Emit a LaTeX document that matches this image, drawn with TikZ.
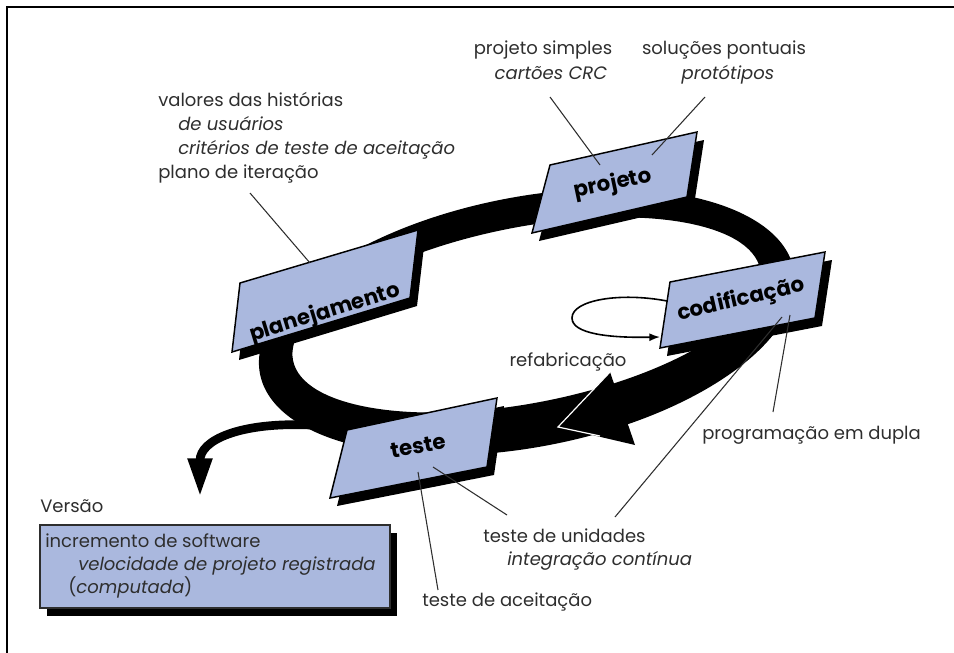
\documentclass[tikz,border=0pt]{standalone}
\usepackage{fontspec}
\setmainfont{Poppins}
\usetikzlibrary{arrows.meta}
\definecolor{cardblue}{HTML}{AAB8DE}
\definecolor{inkgray}{HTML}{2E2E2E}

\begin{document}
\begin{tikzpicture}[x=0.75pt, y=-0.75pt,
    note/.style={font=\fontsize{13.5}{15}\selectfont, text=inkgray, inner sep=0pt,
      text height=1.5ex, text depth=.25ex},
    noteleft/.style={note, anchor=west},
    stage/.style={font=\fontsize{16}{18}\selectfont\bfseries, text=black, inner sep=0pt},
    leader/.style={draw=inkgray, line width=0.8pt},
    cardface/.style={fill=cardblue, draw=black, line width=1.1pt, line join=miter},
    cardshadow/.style={fill=black, shift={(7,8)}}]

  \useasboundingbox (0,0) rectangle (954,653);

  % frame
  \draw[line width=1.6pt] (7,653) -- (7,7) -- (954,7);

  % release arrow, leaves the loop
  \draw[line width=6.5pt, -{Triangle[length=29pt, width=17pt]}]
    (310,425) .. controls (240,422) and (200,440) .. (200,497);

  % the loop
  \fill[even odd rule, rotate around={11:(527,322)}]
    (527,322) ellipse [x radius=272, y radius=125]
    (528,315) ellipse [x radius=238, y radius=88];

  % arrowhead on the loop
  \fill (558,427) -- (610,372) -- (635,445) -- cycle;
  \draw[white, line width=0.9pt] (610,372) -- (558,427) -- (600,436);

  % planejamento
  \fill[cardshadow] (240,283) -- (418,230) -- (410,298) -- (232,352) -- cycle;
  \filldraw[cardface] (240,283) -- (418,230) -- (410,298) -- (232,352) -- cycle;
  \node[stage, rotate=17] (planejamento) at (325,313) {planejamento};

  % projeto
  \fill[cardshadow] (550,165) -- (697,132) -- (687,197) -- (532,233) -- cycle;
  \filldraw[cardface] (550,165) -- (697,132) -- (687,197) -- (532,233) -- cycle;
  \node[stage, rotate=12] (projeto) at (613,184) {projeto};

  % codificacao
  \fill[cardshadow] (670,282) -- (825,252) -- (815,318) -- (660,348) -- cycle;
  \filldraw[cardface] (670,282) -- (825,252) -- (815,318) -- (660,348) -- cycle;
  \node[stage, rotate=13] (codificacao) at (741,300) {codificação};

  % teste
  \fill[cardshadow] (347,430) -- (497,398) -- (487,467) -- (330,498) -- cycle;
  \filldraw[cardface] (347,430) -- (497,398) -- (487,467) -- (330,498) -- cycle;
  \node[stage, rotate=10] (teste) at (418,446) {teste};

  % refabricacao loop
  \draw[line width=1.2pt, -{Latex[length=8pt, width=6pt]}]
    (667,301) .. controls (620,292) and (572,300) .. (572,318)
    .. controls (572,334) and (610,338) .. (660,337);
  \node[note] (refab) at (568,362) {refabricação};

  % versao box
  \node[noteleft] (versao) at (40,508) {Versão};
  \fill[cardshadow] (40,525) rectangle (390,608);
  \filldraw[cardface, draw=inkgray] (40,525) rectangle (390,608);
  \node[noteleft] (incremento) at (45,543) {incremento de software};
  \node[noteleft] (velocidade) at (78,566) {\itshape velocidade de projeto registrada};
  \node[noteleft] (computada) at (68,589) {(\textit{computada})};

  % notes
  \node[noteleft] (valores) at (158,102) {valores das histórias};
  \node[noteleft] (usuarios) at (178,126) {\itshape de usuários};
  \node[noteleft] (criterios) at (178,150) {\itshape critérios de teste de aceitação};
  \node[noteleft] (iteracao) at (158,174) {plano de iteração};

  \node[note] (simples) at (543,50) {projeto simples};
  \node[note] (crc) at (551,75) {\itshape cartões CRC};
  \node[note] (pontuais) at (724,50) {soluções pontuais};
  \node[note] (prototipos) at (728,75) {\itshape protótipos};

  \node[noteleft] (dupla) at (702,435) {programação em dupla};
  \node[noteleft] (unidades) at (483,538) {teste de unidades};
  \node[noteleft] (continua) at (507,561) {\itshape integração contínua};
  \node[noteleft] (aceitacao) at (422,602) {teste de aceitação};

  % leader lines
  \coordinate (ptPlan) at (310,263);
  \coordinate (ptIter) at (250,193);
  \coordinate (ptCrc) at (550,97);
  \coordinate (ptProjA) at (600,165);
  \coordinate (ptProt) at (705,97);
  \coordinate (ptProjB) at (652,155);
  \coordinate (ptCodA) at (790,315);
  \coordinate (ptDupla) at (773,412);
  \coordinate (ptCodB) at (782,317);
  \coordinate (ptUnidA) at (615,517);
  \coordinate (ptTesA) at (433,467);
  \coordinate (ptUnidB) at (507,515);
  \coordinate (ptTesB) at (418,472);
  \coordinate (ptAceit) at (438,590);

  \draw[leader] (ptIter) -- (ptPlan);
  \draw[leader] (ptCrc) -- (ptProjA);
  \draw[leader] (ptProt) -- (ptProjB);
  \draw[leader] (ptCodA) -- (ptDupla);
  \draw[leader] (ptCodB) -- (ptUnidA);
  \draw[leader] (ptTesA) -- (ptUnidB);
  \draw[leader] (ptTesB) -- (ptAceit);
\end{tikzpicture}
\end{document}
